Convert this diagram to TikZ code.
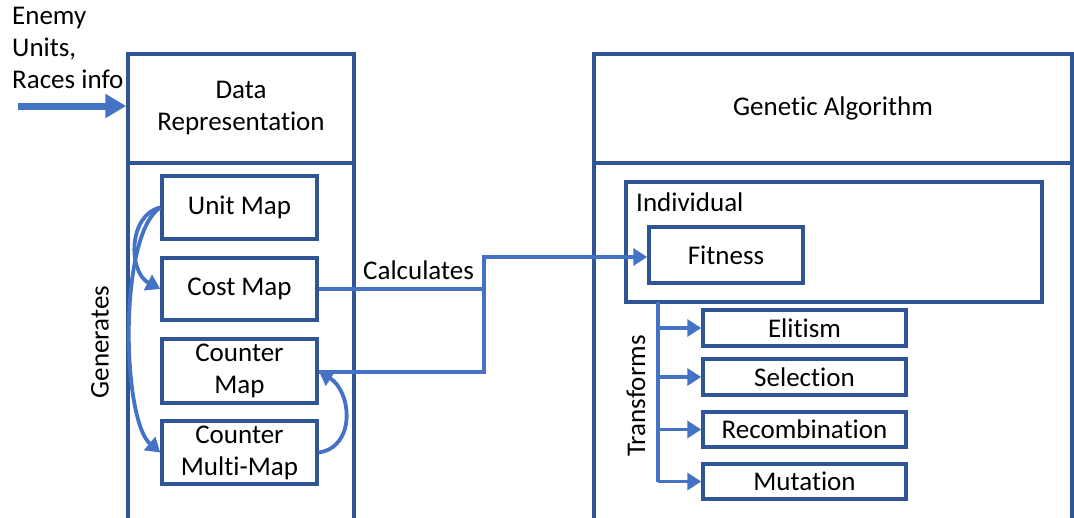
\documentclass[tikz,border=0pt]{standalone}
\usepackage{fontspec}
\setmainfont{Carlito}[Ligatures=NoCommon]
\usetikzlibrary{arrows.meta}
\definecolor{boxc}{HTML}{2F5597}
\definecolor{linec}{HTML}{4472C4}
\begin{document}
\begin{tikzpicture}[x=1pt,y=-1pt,
  every node/.style={font=\fontsize{27}{32}\selectfont, text=black, inner sep=0pt},
  box/.style={draw=boxc, line width=3.5pt, align=center, fill=white},
  conn/.style={draw=linec, line width=3.8pt},
  arr/.style={conn, -{Triangle[length=14pt,width=17pt]}},
  lbl/.style={align=left}]
\clip (0,0) rectangle (1074,517);
\fill[white] (0,0) rectangle (1074,517);

% left column
\draw[box] (128,163) rectangle (354,540);
\node[box, minimum width=226pt, minimum height=109pt] (drep) at (241,108.5) {Data\\Representation};
\node[box, minimum width=155pt, minimum height=63pt] (unit) at (239.5,207.5) {Unit Map};
\node[box, minimum width=155pt, minimum height=62pt] (cost) at (239.5,289) {Cost Map};
\node[box, minimum width=155pt, minimum height=64pt] (cmap) at (239.5,371) {Counter\\Map};
\node[box, minimum width=155pt, minimum height=63pt] (multi) at (239.5,452.5) {Counter\\Multi-Map};

% right column
\draw[box] (594,163) rectangle (1072,540);
\node[box, minimum width=478pt, minimum height=109pt] (ga) at (833,108.5) {Genetic Algorithm};
\node[box, minimum width=416pt, minimum height=120pt] (indiv) at (834,242) {};
\node[lbl, anchor=west] (indl) at (636,202) {Individual};
\node[box, minimum width=154pt, minimum height=56pt] (fit) at (726,255) {Fitness};
\node[box, minimum width=203pt, minimum height=36pt] (elit) at (804.5,328) {Elitism};
\node[box, minimum width=203pt, minimum height=36pt] (sel) at (804.5,377) {Selection};
\node[box, minimum width=203pt, minimum height=35pt] (rec) at (804.5,429.5) {Recombination};
\node[box, minimum width=203pt, minimum height=35pt] (mut) at (804.5,481.5) {Mutation};

% input
\node[lbl, anchor=north west] (enemy) at (12,7) {Enemy\\Units,\\Races info};
\coordinate (in) at (18,106);
\draw[draw=linec, line width=7pt, -{Triangle[length=21pt,width=23pt]}] (in) -- (drep.west |- in);

% generates curves
\draw[arr] (unit.west) .. controls (128,215) and (128,272) .. (cost.west);
\draw[arr] (unit.west) .. controls (118,235) and (122,420) .. (multi.west);
\node[rotate=90] (gen) at (100,342) {Generates};
\draw[arr] (multi.east) .. controls (356,447) and (352,392) .. (cmap.east);

% calculates
\coordinate (j1) at (484,289);
\coordinate (j2) at (484,257);
\coordinate (j3) at (484,372);
\draw[conn] (cost.east) -- (j1) -- (j3) -- (cmap.east |- j3);
\draw[arr] (j1) -- (j2) -- (fit.west |- j2);
\node[anchor=west] (calc) at (363,270) {Calculates};

% transforms
\coordinate (t0) at (658,302);
\coordinate (t4) at (658,481.5);
\draw[conn] (t0) -- (t4);
\draw[arr] (t0 |- elit) -- (elit.west);
\draw[arr] (t0 |- sel) -- (sel.west);
\draw[arr] (t0 |- rec) -- (rec.west);
\draw[arr] (t4) -- (mut.west);
\node[rotate=90] (trans) at (636,396) {Transforms};
\end{tikzpicture}
\end{document}
